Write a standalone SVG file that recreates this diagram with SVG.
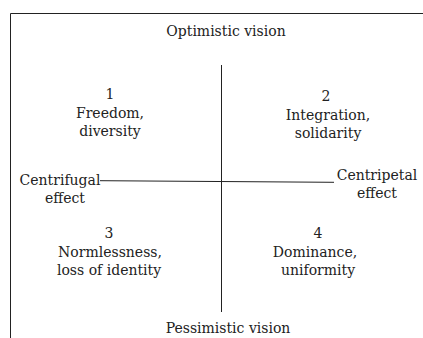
<svg xmlns="http://www.w3.org/2000/svg" width="423" height="338" viewBox="0 0 423 338">
<style>
text{font-family:"DejaVu Serif","Liberation Serif",serif;font-size:14px;fill:#222;text-anchor:middle}
.ln{stroke:#222;stroke-width:1;fill:none}
</style>
<rect width="423" height="338" fill="#fff"/>
<g id="frame"><path class="ln" d="M10.5,338 V13.5 H423"/></g>
<g id="connectors">
<line class="ln" x1="221.5" y1="65" x2="221.5" y2="312"/>
<line class="ln" x1="100" y1="180.7" x2="334" y2="182.3"/>
</g>
<g id="top"><text x="226" y="36">Optimistic vision</text></g>
<g id="bottom"><text x="228" y="333">Pessimistic vision</text></g>
<g id="q1"><text x="110" y="99">1</text><text x="110" y="118">Freedom,</text><text x="110" y="136">diversity</text></g>
<g id="q2"><text x="326" y="100.5">2</text><text x="328" y="120">Integration,</text><text x="328" y="138">solidarity</text></g>
<g id="left"><text x="60" y="185">Centrifugal</text><text x="65" y="203">effect</text></g>
<g id="right"><text x="377" y="180">Centripetal</text><text x="377" y="198">effect</text></g>
<g id="q3"><text x="109" y="237.5">3</text><text x="110" y="257">Normlessness,</text><text x="109" y="275">loss of identity</text></g>
<g id="q4"><text x="318" y="237.5">4</text><text x="315" y="257">Dominance,</text><text x="318" y="275">uniformity</text></g>
</svg>
